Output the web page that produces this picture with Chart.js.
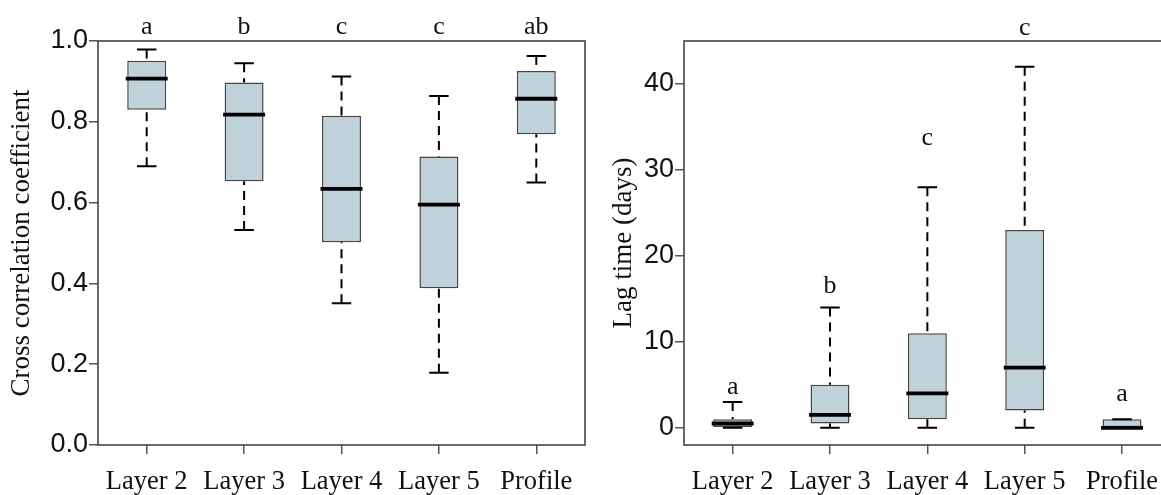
<!DOCTYPE html>
<html><head><meta charset="utf-8">
<script src="https://cdn.jsdelivr.net/npm/chart.js@4.4.0/dist/chart.umd.min.js"></script>
<style>
html,body{margin:0;padding:0;background:#fff;overflow:hidden;width:1161px;height:495px;position:relative;}
#c1{position:absolute;left:0;top:0;}
#c2{position:absolute;left:590px;top:0;}
</style></head><body>
<canvas id="c1" width="590" height="495"></canvas>
<canvas id="c2" width="600" height="495"></canvas>
<script>
const categories = ['Layer 2', 'Layer 3', 'Layer 4', 'Layer 5', 'Profile'];

// Left panel: cross correlation coefficient (min, Q1, median, Q3, max)
const ccMin = [0.690, 0.532, 0.351, 0.179, 0.650];
const ccQ1  = [0.830, 0.653, 0.502, 0.388, 0.769];
const ccMed = [0.907, 0.818, 0.634, 0.595, 0.857];
const ccQ3  = [0.951, 0.897, 0.815, 0.714, 0.926];
const ccMax = [0.979, 0.945, 0.912, 0.864, 0.963];
const ccLetters = ['a', 'b', 'c', 'c', 'ab'];
const ccLetterY = [1.017, 1.017, 1.017, 1.017, 1.017];
const ccTicks = [0, 0.2, 0.4, 0.6, 0.8, 1.0];

// Right panel: lag time (days)
const lagMin = [0, 0, 0, 0, 0];
const lagQ1  = [0, 0.5, 1, 2, 0];
const lagMed = [0.5, 1.5, 4, 7, 0];
const lagQ3  = [1, 5, 11, 23, 1];
const lagMax = [3, 14, 28, 42, 1];
const lagLetters = ['a', 'b', 'c', 'c', 'a'];
const lagLetterY = [3.9, 15.7, 32.9, 45.7, 3.1];
const lagTicks = [0, 10, 20, 30, 40];

const SERIF = '"Liberation Serif", "Times New Roman", serif';
const SANS = '"Liberation Sans", Arial, sans-serif';
const BOX_FILL = '#bfd2da';
const BOX_EDGE = '#454545';

const boxPlugin = {
  id: 'boxExtras',
  afterDatasetsDraw(chart, args, opts) {
    const {ctx, chartArea} = chart;
    const xs = chart.scales.x, ys = chart.scales.y;
    const meta = chart.getDatasetMeta(0);
    const st = opts.stats;
    ctx.save();
    categories.forEach((c, i) => {
      const x = xs.getPixelForValue(i);
      const bw = meta.data[i].width;
      const capHalf = bw / 4;
      const yMin = ys.getPixelForValue(st.min[i]);
      const yQ1 = ys.getPixelForValue(st.q1[i]);
      const yMed = ys.getPixelForValue(st.med[i]);
      const yQ3 = ys.getPixelForValue(st.q3[i]);
      const yMax = ys.getPixelForValue(st.max[i]);
      ctx.strokeStyle = '#000';
      ctx.lineWidth = 2;
      ctx.lineCap = 'butt';
      // whiskers (dashed, drawn from cap toward box)
      ctx.setLineDash([9, 6]);
      if (st.max[i] > st.q3[i]) {
        ctx.beginPath(); ctx.moveTo(x, yMax); ctx.lineTo(x, yQ3); ctx.stroke();
      }
      if (st.min[i] < st.q1[i]) {
        ctx.beginPath(); ctx.moveTo(x, yMin); ctx.lineTo(x, yQ1); ctx.stroke();
      }
      ctx.setLineDash([]);
      // caps
      ctx.beginPath();
      ctx.moveTo(x - capHalf, yMax); ctx.lineTo(x + capHalf, yMax);
      ctx.moveTo(x - capHalf, yMin); ctx.lineTo(x + capHalf, yMin);
      ctx.stroke();
      // median
      ctx.lineWidth = 3.8;
      ctx.beginPath();
      ctx.moveTo(x - bw / 2 - 1.5, yMed); ctx.lineTo(x + bw / 2 + 1.5, yMed);
      ctx.stroke();
      // significance letters
      ctx.fillStyle = '#111';
      ctx.font = '26px ' + SERIF;
      ctx.textAlign = 'center';
      ctx.textBaseline = 'alphabetic';
      ctx.fillText(opts.letters[i], x, ys.getPixelForValue(opts.letterY[i]));
    });
    // frame
    ctx.strokeStyle = '#444';
    ctx.lineWidth = 1.6;
    ctx.strokeRect(chartArea.left, chartArea.top, chartArea.right - chartArea.left, chartArea.bottom - chartArea.top);
    ctx.restore();
  }
};

function makeChart(id, cfg) {
  return new Chart(document.getElementById(id), {
    type: 'bar',
    data: {
      labels: categories,
      datasets: [{
        data: cfg.q1.map((v, i) => [v, cfg.q3[i]]),
        backgroundColor: BOX_FILL,
        borderColor: BOX_EDGE,
        borderWidth: 1.5,
        borderSkipped: false,
        barPercentage: 0.4,
        categoryPercentage: 1.0
      }]
    },
    options: {
      responsive: false,
      animation: false,
      devicePixelRatio: 1,
      layout: {padding: {left: 0, right: cfg.padRight, top: 41, bottom: 0}},
      plugins: {
        legend: {display: false},
        tooltip: {enabled: false},
        boxExtras: {stats: cfg, letters: cfg.letters, letterY: cfg.letterY}
      },
      scales: {
        x: {
          offset: true,
          border: {display: false},
          grid: {display: true, offset: false, drawOnChartArea: false, drawTicks: true, tickLength: 9, color: '#555', lineWidth: 1.5},
          ticks: {font: {family: SERIF, size: 26.5}, color: '#111', padding: 11.7, maxRotation: 0, autoSkip: false},
          afterFit: s => { s.height = 50; }
        },
        y: {
          min: cfg.yMin, max: cfg.yMax,
          border: {display: false},
          grid: {display: true, drawOnChartArea: false, drawTicks: true, tickLength: 9, color: '#555', lineWidth: 1.5},
          ticks: {font: {family: SANS, size: 27}, color: '#111', padding: 1,
                  callback: v => cfg.fmt(v)},
          afterBuildTicks: s => { s.ticks = cfg.ticks.map(v => ({value: v})); },
          title: {display: true, text: cfg.title, font: {family: SERIF, size: 27}, color: '#111',
                  padding: {top: cfg.titlePad, bottom: 0}},
          afterFit: s => { s.width = cfg.yWidth; }
        }
      }
    },
    plugins: [boxPlugin]
  });
}

makeChart('c1', {
  min: ccMin, q1: ccQ1, med: ccMed, q3: ccQ3, max: ccMax,
  letters: ccLetters, letterY: ccLetterY, ticks: ccTicks,
  yMin: 0, yMax: 1, fmt: v => v.toFixed(1),
  title: 'Cross correlation coefficient', titlePad: 5.8,
  yWidth: 98, padRight: 5
});

makeChart('c2', {
  min: lagMin, q1: lagQ1, med: lagMed, q3: lagQ3, max: lagMax,
  letters: lagLetters, letterY: lagLetterY, ticks: lagTicks,
  yMin: -2, yMax: 45, fmt: v => String(v),
  title: 'Lag time (days)', titlePad: 17.8,
  yWidth: 94, padRight: 19.3
});
</script>
</body></html>
